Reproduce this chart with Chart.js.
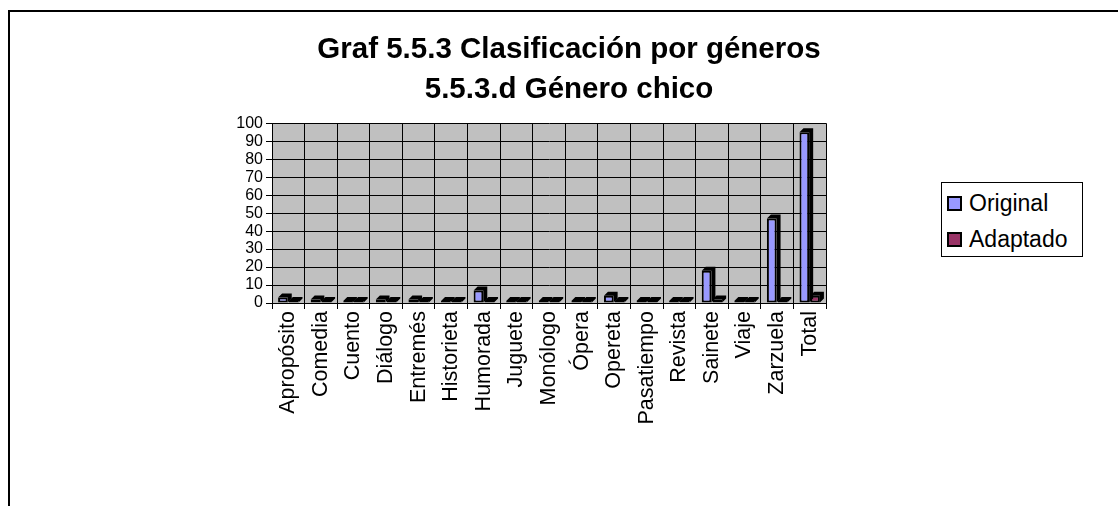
<!DOCTYPE html>
<html>
<head>
<meta charset="utf-8">
<script src="https://cdn.jsdelivr.net/npm/chart.js@4/dist/chart.umd.min.js"></script>
<style>
  body { margin: 0; background: #fff; font-family: Arial, 'Liberation Sans', sans-serif; }
  #frame { position: absolute; left: 8px; top: 10px; width: 1120px; height: 510px; border-top: 2px solid #000; border-left: 2px solid #000; }
  #wrap { position: absolute; left: 0; top: 0; width: 1118px; height: 506px; }
  #legend { position: absolute; left: 941px; top: 182px; width: 140px; height: 73px; border: 1px solid #000; background: #fff; }
  .item { position: absolute; left: 5px; height: 26px; line-height: 26px; font-size: 23px; color: #000; white-space: nowrap; }
  .item span { display: inline-block; width: 11px; height: 11px; border: 2px solid #000; margin-right: 7px; vertical-align: 0px; }
</style>
</head>
<body>
<div id="frame"></div>
<div id="wrap"><canvas id="chart"></canvas></div>
<div id="legend">
  <div class="item" style="top:7px"><span style="background:#9999FF"></span>Original</div>
  <div class="item" style="top:43px"><span style="background:#993366"></span>Adaptado</div>
</div>
<script>
const categories = ['Apropósito', 'Comedia', 'Cuento', 'Diálogo', 'Entremés', 'Historieta', 'Humorada', 'Juguete',
  'Monólogo', 'Ópera', 'Opereta', 'Pasatiempo', 'Revista', 'Sainete', 'Viaje', 'Zarzuela', 'Total'];
const original = [3, 2, 0, 2, 2, 0, 7, 0, 0, 0, 4, 0, 0, 18, 0, 47, 95];
const adaptado = [0, 0, 0, 0, 0, 0, 0, 0, 0, 0, 0, 0, 0, 2, 0, 0, 4];
const yTicks = [0, 10, 20, 30, 40, 50, 60, 70, 80, 90, 100];
const titleLines = ['Graf 5.5.3 Clasificación por géneros', '5.5.3.d Género chico'];

const FONT = "Arial, 'Liberation Sans', sans-serif";

// grey back wall behind the bars
const wallBackground = {
  id: 'wallBackground',
  beforeDraw(chart) {
    const { ctx, chartArea: a } = chart;
    ctx.save();
    ctx.fillStyle = '#C0C0C0';
    ctx.fillRect(a.left, a.top, a.right - a.left, a.bottom - a.top);
    ctx.restore();
  }
};

// dark top and side faces so the bars read like the old 3D columns
const barDepth = {
  id: 'barDepth',
  afterDatasetsDraw(chart) {
    const { ctx } = chart;
    const d = 4;
    ctx.save();
    ctx.fillStyle = '#000';
    chart.data.datasets.forEach((ds, i) => {
      chart.getDatasetMeta(i).data.forEach(bar => {
        const { x, y, base, width } = bar.getProps(['x', 'y', 'base', 'width'], true);
        const left = x - width / 2, right = x + width / 2;
        const top = Math.min(y, base);
        ctx.beginPath();
        ctx.moveTo(left, top);
        ctx.lineTo(left + d, top - d);
        ctx.lineTo(right + d, top - d);
        ctx.lineTo(right + d, base - d);
        ctx.lineTo(right, base);
        ctx.lineTo(right, top);
        ctx.closePath();
        ctx.fill();
      });
    });
    ctx.restore();
  }
};

new Chart(document.getElementById('chart'), {
  type: 'bar',
  data: {
    labels: categories,
    datasets: [
      { label: 'Original', data: original, backgroundColor: '#9999FF', borderColor: '#000', borderWidth: 2, borderSkipped: false, minBarLength: 2 },
      { label: 'Adaptado', data: adaptado, backgroundColor: '#993366', borderColor: '#000', borderWidth: 2, borderSkipped: false, minBarLength: 2 },
    ]
  },
  options: {
    responsive: true,
    maintainAspectRatio: false,
    animation: false,
    layout: { padding: { left: 20, right: 0, top: 0, bottom: 0 } },
    datasets: { bar: { categoryPercentage: 0.66, barPercentage: 0.9 } },
    plugins: {
      legend: { display: false },
      tooltip: { enabled: false },
      title: {
        display: true,
        text: titleLines,
        color: '#000',
        font: { family: FONT, size: 29.5, weight: 'bold', lineHeight: 1.36 },
        padding: { top: 30, bottom: 13 }
      }
    },
    scales: {
      x: {
        grid: { color: '#000', lineWidth: 1, offset: true, tickLength: 6 },
        border: { color: '#000', width: 1 },
        ticks: { color: '#000', font: { family: FONT, size: 21.5 }, minRotation: 90, maxRotation: 90, autoSkip: false, padding: 2 },
        afterFit(scale) { scale.height = 203; }
      },
      y: {
        min: 0,
        max: 100,
        afterBuildTicks(scale) { scale.ticks = yTicks.map(v => ({ value: v })); },
        grid: { color: '#000', lineWidth: 1, tickLength: 6 },
        border: { color: '#000', width: 1 },
        ticks: { color: '#000', font: { family: FONT, size: 16 }, padding: 3, autoSkip: false, stepSize: 10 },
        afterFit(scale) { scale.width = 252; }
      },
      spacer: {
        type: 'linear',
        position: 'right',
        display: true,
        grid: { display: false },
        border: { display: false },
        ticks: { display: false },
        afterFit(scale) { scale.width = 292; }
      }
    }
  },
  plugins: [wallBackground, barDepth]
});
</script>
</body>
</html>
